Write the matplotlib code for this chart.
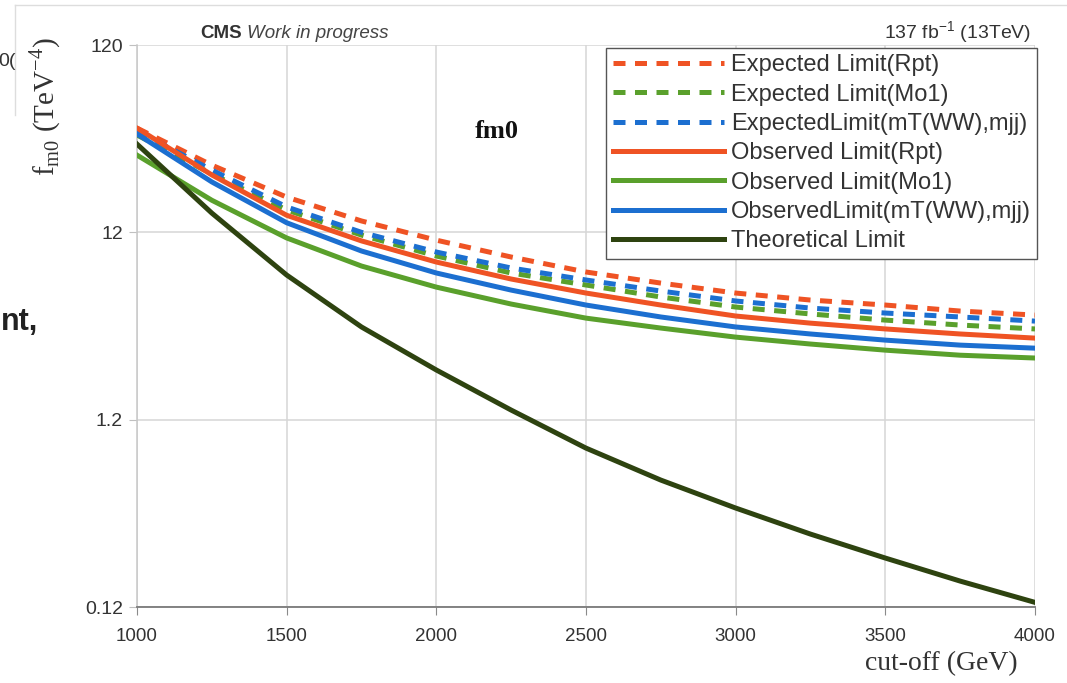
import matplotlib
matplotlib.use("Agg")
import matplotlib.pyplot as plt
from matplotlib.lines import Line2D
from matplotlib.ticker import FixedLocator, NullLocator

plt.rcParams["mathtext.fontset"] = "custom"
plt.rcParams["mathtext.rm"] = "Liberation Serif"
plt.rcParams["mathtext.sf"] = "Liberation Sans"

cutoff = [1000, 1250, 1500, 1750, 2000, 2250, 2500, 2750, 3000, 3250, 3500, 3750, 4000]
exp_rpt = [43.2, 27.4, 18.5, 13.8, 10.9, 8.86, 7.37, 6.43, 5.69, 5.22, 4.91, 4.56, 4.34]
exp_mo1 = [39.7, 24.6, 15.8, 11.6, 8.97, 7.28, 6.28, 5.42, 4.79, 4.40, 4.08, 3.84, 3.66]
exp_mt = [41.7, 25.8, 16.4, 12.0, 9.42, 7.74, 6.68, 5.83, 5.16, 4.73, 4.45, 4.24, 4.03]
obs_rpt = [43.2, 24.3, 14.8, 10.8, 8.33, 6.76, 5.69, 4.91, 4.29, 3.93, 3.66, 3.44, 3.27]
obs_mo1 = [31.0, 17.8, 11.2, 7.93, 6.12, 4.97, 4.18, 3.70, 3.31, 3.04, 2.82, 2.65, 2.56]
obs_mt = [40.2, 22.3, 13.5, 9.54, 7.28, 5.90, 4.91, 4.24, 3.75, 3.44, 3.19, 3.00, 2.89]
theory = [35.5, 15.2, 7.10, 3.75, 2.21, 1.35, 0.846, 0.571, 0.405, 0.294, 0.219, 0.165, 0.127]

yticks = [0.12, 1.2, 12, 120]
ytick_labels = ["0.12", "1.2", "12", "120"]
xticks = [1000, 1500, 2000, 2500, 3000, 3500, 4000]

RED = "#ef5324"
GREEN = "#5aa02c"
BLUE = "#1c6fd0"
DARK = "#2e4310"

fig = plt.figure(figsize=(10.67, 6.83), dpi=100)
ax = fig.add_axes([137/1067, 1-607/683, (1035-137)/1067, (607-45)/683])

lw = 3.6
dash = (2.4, 1.9)
ax.plot(cutoff, exp_rpt, color=RED, lw=lw, dashes=dash, label="Expected Limit(Rpt)", zorder=3)
ax.plot(cutoff, exp_mo1, color=GREEN, lw=lw, dashes=dash, label="Expected Limit(Mo1)", zorder=3)
ax.plot(cutoff, exp_mt, color=BLUE, lw=lw, dashes=dash, label="ExpectedLimit(mT(WW),mjj)", zorder=3)
ax.plot(cutoff, obs_rpt, color=RED, lw=lw, label="Observed Limit(Rpt)", zorder=3)
ax.plot(cutoff, obs_mo1, color=GREEN, lw=lw, label="Observed Limit(Mo1)", zorder=3)
ax.plot(cutoff, obs_mt, color=BLUE, lw=lw, label="ObservedLimit(mT(WW),mjj)", zorder=3)
ax.plot(cutoff, theory, color=DARK, lw=lw, label="Theoretical Limit", zorder=3)

ax.set_yscale("log")
ax.set_ylim(0.12, 120)
ax.set_xlim(1000, 4000)
ax.yaxis.set_major_locator(FixedLocator(yticks))
ax.yaxis.set_minor_locator(NullLocator())
ax.set_yticks(yticks)
ax.set_yticklabels(ytick_labels)
ax.set_xticks(xticks)
ax.set_xticklabels([str(x) for x in xticks])
ax.grid(True, color="#d6d6d6", lw=1.1, zorder=0)
ax.set_axisbelow(True)
for s in ["top", "right"]:
    ax.spines[s].set_visible(False)
ax.spines["left"].set_color("#c8c8c8")
ax.spines["left"].set_linewidth(1.1)
ax.spines["bottom"].set_color("#7a7a7a")
ax.spines["bottom"].set_linewidth(1.3)
ax.tick_params(axis="x", length=6, color="#8a8a8a", labelsize=13.5, labelcolor="#333333", pad=9)
ax.tick_params(axis="y", length=6, color="#c0c0c0", labelsize=14, labelcolor="#333333", pad=4)
for lab in ax.get_xticklabels():
    lab.set_family(["Liberation Sans Narrow", "DejaVu Sans Condensed", "Liberation Sans"])
    lab.set_stretch("condensed")
for lab in ax.get_yticklabels():
    lab.set_family(["Liberation Sans", "DejaVu Sans"])

leg = ax.legend(loc="upper right", bbox_to_anchor=(1.0025, 0.9947), prop={"family": "Liberation Sans", "size": 17},
                frameon=True, fancybox=False, edgecolor="#555555", framealpha=1,
                handlelength=4.7, handletextpad=0.3, labelspacing=0.31, borderpad=0.27, borderaxespad=0.0)
leg.get_frame().set_linewidth(1.0)
for t in leg.get_texts():
    t.set_color("#333333")

# Texts
fig.text(200/1067, 1-33/683, "CMS", fontsize=13.5, fontweight="bold", family="Liberation Sans",
         color="#333333", va="center", ha="left")
fig.text(247/1067, 1-33/683, "Work in progress", fontsize=13.5, style="italic", family="Liberation Sans",
         color="#444444", va="center", ha="left")
fig.text(1031/1067, 1-33/683, r"137 fb$^{\mathsf{-1}}$ (13TeV)", fontsize=14, family="Liberation Sans",
         color="#333333", va="center", ha="right")
fig.text(497/1067, 1-132/683, "fm0", fontsize=19, fontweight="bold", family="Liberation Serif",
         color="#111111", va="center", ha="center")
fig.text(45/1067, 1-107/683, r"f$_{\mathrm{m0}}$ (TeV$^{-4}$)", fontsize=21, family="Liberation Serif",
         rotation=90, va="center", ha="center", color="#333333")
fig.text(941/1067, 1-664/683, "cut-off (GeV)", fontsize=20, family="Liberation Serif",
         va="center", ha="center", color="#333333")
# fragments from the surrounding slide
fig.text(-2/1067, 1-62/683, "0(", fontsize=14, family="Liberation Sans", va="center", ha="left", color="#333333")
fig.text(0.5/1067, 1-322/683, "nt,", fontsize=22, fontweight="bold", family="Liberation Sans",
         va="center", ha="left", color="#222222")
# frame of embedded image
fig.add_artist(Line2D([15/1067, 1], [1-5/683, 1-5/683], color="#dddddd", lw=1))
fig.add_artist(Line2D([15/1067, 15/1067], [1-5/683, 1-115/683], color="#dddddd", lw=1))

fig.savefig("out.png", dpi=100)
